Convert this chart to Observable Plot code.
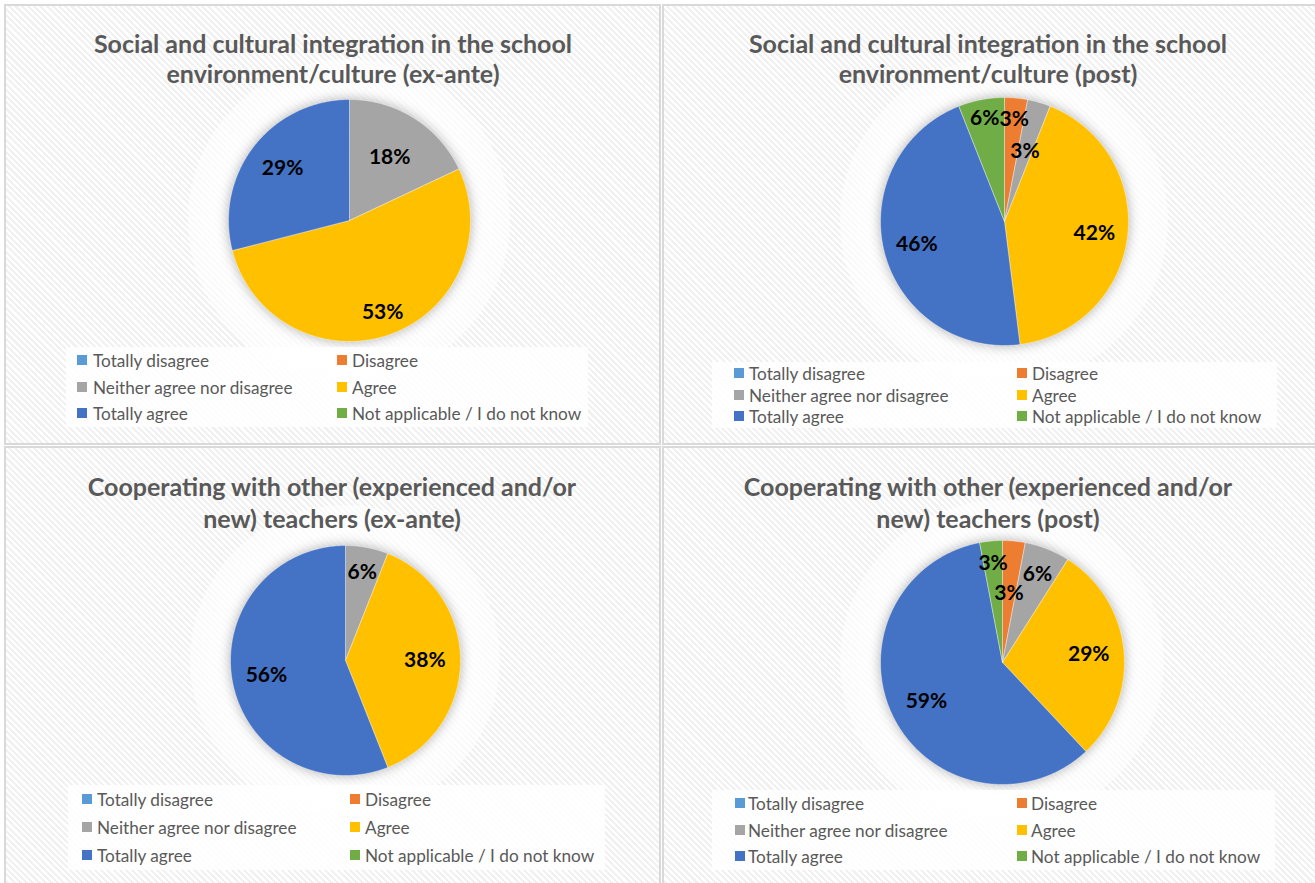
<!DOCTYPE html>
<html>
<head>
<meta charset="utf-8">
<script src="https://cdn.jsdelivr.net/npm/d3@7"></script>
<script src="https://cdn.jsdelivr.net/npm/@observablehq/plot@0.6"></script>
<style>
  html, body { margin:0; padding:0; width:1315px; height:883px; overflow:hidden; background:#fff; font-family: Lato, "Open Sans", sans-serif; }
  .panel { position:absolute; box-sizing:border-box; border:2px solid #d9d9d9;
    background: repeating-linear-gradient(45deg, #ffffff 0px, #ffffff 2.2px, #f1f1f1 2.2px, #f1f1f1 4.4px); }
  .title { position:absolute; transform:translate(-50%,-50%); white-space:nowrap; font-weight:700; color:#595959; font-size:25px; }
  .legbox { position:absolute; background:rgba(255,255,255,0.85); }
  .sw { position:absolute; width:10px; height:10px; }
  .lt { position:absolute; transform:translateY(-50%); white-space:nowrap; color:#595959; font-size:17.2px; }
  .glow { position:absolute; border-radius:50%; }
</style>
</head>
<body>
<script>
// ---------- data ----------
const categories = ["Totally disagree", "Disagree", "Neither agree nor disagree", "Agree", "Totally agree", "Not applicable / I do not know"];
const colors = ["#5B9BD5", "#ED7D31", "#A5A5A5", "#FFC000", "#4472C4", "#70AD47"];
const socialExAnte = [0, 0, 18, 53, 29, 0];
const socialPost   = [0, 3, 3, 42, 46, 6];
const coopExAnte   = [0, 0, 6, 38, 56, 0];
const coopPost     = [0, 3, 6, 29, 59, 3];
const titles = [
  ["Social and cultural integration in the school", "environment/culture (ex-ante)"],
  ["Social and cultural integration in the school", "environment/culture (post)"],
  ["Cooperating with other (experienced and/or", "new) teachers (ex-ante)"],
  ["Cooperating with other (experienced and/or", "new) teachers (post)"]
];
const series = [socialExAnte, socialPost, coopExAnte, coopPost];

// ---------- layout ----------
const layouts = [
  { box:[4,4,657,441], titleX:333, titleY:[43,73], cx:348.5, cy:220, r:121,
    labelR:[0.7,0.7,0.62,0.81,0.70,0.7],
    leg:{ rows:[360,387,413], cols:[[77,93],[337,352]], box:[66,347,588,427] } },
  { box:[662,4,700,441], titleX:988, titleY:[43,73], cx:1003.5, cy:221, r:124,
    labelR:[0.7,0.83,0.59,0.73,0.73,0.85],
    leg:{ rows:[373,395,416], cols:[[734,749],[1017,1032]], box:[712,362,1277,428] } },
  { box:[4,446,657,460], titleX:332, titleY:[486,518], cx:345, cy:659.5, r:115,
    labelR:[0.7,0.7,0.78,0.69,0.70,0.7],
    leg:{ rows:[799,827,855], cols:[[82,97],[350,365]], box:[68,785,605,870] } },
  { box:[662,446,700,460], titleX:988, titleY:[486,518], cx:1002, cy:661.5, r:122,
    labelR:[0.7,0.57,0.78,0.71,0.70,0.82],
    leg:{ rows:[803,830,856], cols:[[735,748],[1017,1031]], box:[712,790,1275,870] } }
];

function el(cls, css, text) {
  const d = document.createElement("div");
  d.className = cls;
  Object.assign(d.style, css);
  if (text != null) d.textContent = text;
  document.body.appendChild(d);
  return d;
}

series.forEach((vals, i) => {
  const L = layouts[i];
  el("panel", { left:L.box[0]+"px", top:L.box[1]+"px", width:L.box[2]+"px", height:L.box[3]+"px" });

  // soft glow behind pie
  const gr = L.r + 40;
  el("glow", { left:(L.cx-gr)+"px", top:(L.cy-gr)+"px", width:(2*gr)+"px", height:(2*gr)+"px",
    background:"radial-gradient(circle, rgba(255,255,255,0.75) 60%, rgba(255,255,255,0.35) 80%, rgba(255,255,255,0) 100%)" });

  titles[i].forEach((t, k) => el("title", { left:L.titleX+"px", top:L.titleY[k]+"px" }, t));

  // slices
  const total = d3.sum(vals);
  const pts = [], labels = [];
  let acc = 0;
  vals.forEach((v, j) => {
    if (v <= 0) return;
    const a0 = acc / total * 2 * Math.PI;
    acc += v;
    const a1 = acc / total * 2 * Math.PI;
    const cat = categories[j];
    pts.push({cat, x:0, y:0});
    const n = Math.max(2, Math.ceil((a1 - a0) / (Math.PI/360)));
    for (let s = 0; s <= n; s++) {
      const a = a0 + (a1 - a0) * s / n;
      pts.push({cat, x:Math.sin(a), y:Math.cos(a)});
    }
    pts.push({cat, x:0, y:0});
    const am = (a0 + a1) / 2, lr = L.labelR[j];
    labels.push({cat, x:lr*Math.sin(am), y:lr*Math.cos(am), text: v + "%"});
  });

  const pad = 16, size = 2 * (L.r + pad), ext = (L.r + pad) / L.r;
  const chart = Plot.plot({
    width: size, height: size, margin: 0,
    style: { background: "transparent", fontFamily: "Lato, sans-serif", overflow: "visible" },
    x: { domain: [-ext, ext], axis: null },
    y: { domain: [-ext, ext], axis: null },
    color: { domain: categories, range: colors },
    marks: [
      Plot.line(pts, { x: "x", y: "y", z: "cat", fill: "cat", stroke: "white", strokeWidth: 0.4, curve: "linear" }),
      Plot.text(labels, { x: "x", y: "y", text: "text", fill: "black", fontSize: 21, fontWeight: "bold" })
    ]
  });
  chart.style.position = "absolute";
  chart.style.left = (L.cx - size/2) + "px";
  chart.style.top = (L.cy - size/2) + "px";
  document.body.appendChild(chart);
  const lg = chart.querySelector('g[aria-label="line"]');
  if (lg) lg.style.filter = "drop-shadow(0px 0px 6px rgba(0,0,0,0.3))";

  // legend
  const b = L.leg.box;
  el("legbox", { left:b[0]+"px", top:b[1]+"px", width:(b[2]-b[0])+"px", height:(b[3]-b[1])+"px" });
  categories.forEach((c, j) => {
    const row = Math.floor(j / 2), col = j % 2;
    const y = L.leg.rows[row];
    el("sw", { left:L.leg.cols[col][0]+"px", top:(y-5)+"px", background:colors[j] });
    el("lt", { left:L.leg.cols[col][1]+"px", top:y+"px" }, c);
  });
});
</script>
</body>
</html>
